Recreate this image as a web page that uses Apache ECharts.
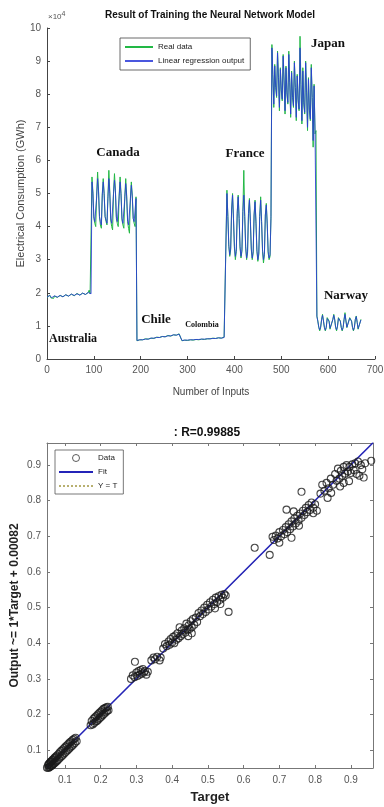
<!DOCTYPE html>
<html><head><meta charset="utf-8">
<script src="https://cdn.jsdelivr.net/npm/echarts@6/dist/echarts.min.js"></script>
<style>html,body{margin:0;padding:0;background:#fff}#c{width:384px;height:807px}</style>
</head><body><div id="c"></div>
<script>
// ---------- Top chart data (values in units of 10^4 GWh, one sample every 2 inputs) ----------
const australiaReal=[1.86,1.80,1.88,1.93,1.85,1.84, 1.88,1.83,1.90,1.95,1.87,1.86, 1.90,1.85,1.92,1.97,1.88,1.88, 1.92,1.86,1.94,1.99,1.90,1.90, 1.93,1.88,1.96,2.01,1.92,1.91, 1.95,1.89,1.98,2.03,1.93,1.93, 1.96,1.91,1.99,2.05,1.95,1.95, 1.98,1.92,2.01,2.08,1.97,1.96];
const australiaPred=[1.87,1.83,1.89,1.92,1.86,1.85, 1.89,1.84,1.91,1.94,1.88,1.87, 1.90,1.86,1.92,1.96,1.89,1.88, 1.92,1.87,1.94,1.98,1.91,1.90, 1.94,1.89,1.96,2.00,1.92,1.92, 1.95,1.90,1.97,2.02,1.94,1.93, 1.97,1.92,1.99,2.04,1.95,1.95, 1.98,1.93,2.01,2.06,1.97,1.97];
const canadaReal=[5.50,5.05,4.25,4.10,4.00,4.95, 5.65,5.10,4.30,4.05,3.95,5.00, 5.45,5.00,4.30,4.15,4.05,4.90, 5.70,5.05,4.20,4.00,3.90,5.05, 5.60,5.10,4.25,4.10,4.00,4.95, 5.50,5.00,4.20,4.05,3.95,4.90, 5.45,4.95,4.15,3.95,3.80,4.85, 5.35,4.95,4.25,4.10,4.00,4.90];
const canadaPred=[5.35,5.00,4.30,4.15,4.10,4.90, 5.45,5.05,4.30,4.15,4.05,4.95, 5.35,4.95,4.30,4.20,4.10,4.85, 5.45,5.00,4.25,4.10,4.05,5.00, 5.40,5.05,4.30,4.15,4.10,4.90, 5.35,4.95,4.25,4.10,4.05,4.85, 5.30,4.90,4.20,4.05,4.00,4.80, 5.25,4.90,4.25,4.15,4.10,4.85];
const chileReal=[0.55,0.56,0.57,0.58,0.56,0.57, 0.58,0.58,0.60,0.61,0.59,0.60, 0.60,0.61,0.62,0.63,0.61,0.62, 0.62,0.63,0.64,0.66,0.64,0.65, 0.65,0.65,0.67,0.68,0.66,0.67, 0.67,0.68,0.69,0.71,0.68,0.70, 0.69,0.70,0.72,0.73,0.71,0.72, 0.72,0.72,0.74,0.76,0.73,0.74];
const chilePred=[0.56,0.56,0.57,0.58,0.57,0.57, 0.58,0.59,0.60,0.60,0.59,0.60, 0.60,0.61,0.62,0.63,0.62,0.62, 0.63,0.63,0.64,0.65,0.64,0.65, 0.65,0.66,0.67,0.68,0.66,0.67, 0.67,0.68,0.69,0.70,0.69,0.70, 0.70,0.70,0.71,0.73,0.71,0.72, 0.72,0.73,0.74,0.75,0.73,0.74];
const colombiaReal=[0.55,0.56,0.56,0.57,0.56,0.57, 0.56,0.57,0.57,0.58,0.57,0.58, 0.57,0.58,0.59,0.59,0.58,0.59, 0.58,0.59,0.60,0.60,0.59,0.60, 0.59,0.60,0.61,0.61,0.60,0.62, 0.61,0.61,0.62,0.63,0.62,0.63, 0.62,0.63,0.63,0.64,0.63,0.64, 0.63,0.64,0.65,0.66,0.65,0.66];
const colombiaPred=[0.56,0.56,0.57,0.57,0.56,0.57, 0.57,0.57,0.58,0.58,0.57,0.58, 0.58,0.58,0.59,0.59,0.58,0.59, 0.59,0.59,0.60,0.60,0.59,0.60, 0.60,0.60,0.61,0.61,0.60,0.61, 0.61,0.61,0.62,0.62,0.62,0.63, 0.62,0.63,0.63,0.64,0.63,0.64, 0.63,0.64,0.65,0.65,0.65,0.66];
const franceReal=[5.10,4.30,3.40,3.10,3.30,4.50, 5.00,4.20,3.35,3.00,3.25,4.40, 4.95,4.25,3.35,3.05,3.25,4.45, 5.70,4.30,3.35,3.00,3.20,4.40, 4.85,4.15,3.30,3.00,3.20,4.35, 4.80,4.10,3.25,2.95,3.15,4.30, 4.90,4.15,3.25,2.90,3.15,4.35, 4.70,4.05,3.20,3.00,3.10,4.30];
const francePred=[5.00,4.30,3.45,3.15,3.35,4.50, 4.95,4.25,3.40,3.10,3.30,4.45, 4.90,4.25,3.40,3.10,3.30,4.45, 4.95,4.30,3.40,3.05,3.25,4.40, 4.80,4.20,3.35,3.05,3.25,4.35, 4.75,4.15,3.30,3.00,3.20,4.30, 4.80,4.15,3.30,3.00,3.20,4.35, 4.65,4.10,3.25,3.05,3.15,4.25];
const japanReal=[9.50,8.60,7.60,8.90,8.20,7.90, 9.30,8.50,7.50,8.80,8.10,7.80, 9.20,8.40,7.40,8.85,8.00,7.70, 9.30,8.40,7.30,8.70,7.90,7.60, 9.00,8.20,7.20,8.60,7.80,7.50, 9.75,8.30,7.10,8.80,7.70,7.40, 9.00,8.10,6.90,8.50,7.50,7.20, 8.90,7.90,6.40,8.30,6.80,6.90];
const japanPred=[9.40,8.55,7.70,8.85,8.25,7.95, 9.25,8.45,7.60,8.75,8.15,7.85, 9.15,8.40,7.50,8.80,8.05,7.75, 9.20,8.35,7.40,8.65,7.95,7.65, 8.95,8.20,7.30,8.55,7.85,7.55, 9.40,8.25,7.20,8.70,7.75,7.45, 8.95,8.05,7.00,8.45,7.55,7.25, 8.80,7.90,6.60,8.25,6.90,6.95];
const norwayReal=[1.30,1.15,0.95,0.85,0.95,1.20, 1.35,1.15,0.95,0.85,0.95,1.25, 1.30,1.15,0.90,0.85,0.95,1.20, 1.35,1.20,0.95,0.85,1.00,1.25, 1.30,1.15,0.95,0.85,0.95,1.20, 1.40,1.15,0.95,0.90,1.00,1.25, 1.30,1.15,0.95,0.85,0.95,1.20, 1.30,1.10,0.90,0.85,0.95,1.20];
const norwayPred=[1.28,1.14,0.97,0.88,0.97,1.18, 1.32,1.15,0.96,0.87,0.97,1.22, 1.28,1.13,0.93,0.87,0.96,1.19, 1.32,1.18,0.96,0.88,0.99,1.23, 1.28,1.14,0.96,0.87,0.96,1.19, 1.35,1.15,0.96,0.90,0.99,1.23, 1.28,1.14,0.96,0.87,0.96,1.19, 1.28,1.11,0.92,0.87,0.96,1.18];
const sampleStep=2;
const topXTicks=[0,100,200,300,400,500,600,700];
const topYTicks=[0,1,2,3,4,5,6,7,8,9,10];

// ---------- Bottom chart data (Target, Output) ----------
const regressionPoints=[
[0.050,0.051],[0.052,0.046],[0.053,0.058],[0.054,0.050],[0.055,0.061],[0.056,0.052],[0.057,0.063],[0.058,0.053],[0.059,0.066],[0.060,0.055],[0.061,0.068],[0.062,0.056],[0.063,0.069],[0.064,0.057],[0.065,0.072],[0.066,0.059],[0.067,0.074],[0.068,0.061],[0.070,0.077],[0.071,0.063],[0.072,0.079],[0.074,0.066],[0.075,0.082],[0.077,0.069],[0.078,0.085],[0.080,0.072],[0.082,0.089],[0.084,0.076],
[0.086,0.094],[0.088,0.080],[0.090,0.098],[0.092,0.084],[0.094,0.102],[0.096,0.088],[0.098,0.106],[0.100,0.092],[0.102,0.110],[0.104,0.096],[0.106,0.114],[0.108,0.100],[0.110,0.118],[0.112,0.104],[0.114,0.122],[0.116,0.108],[0.118,0.125],[0.120,0.112],[0.122,0.129],[0.124,0.116],[0.126,0.132],[0.128,0.120],[0.130,0.135],[0.133,0.125],
[0.172,0.170],[0.175,0.182],[0.178,0.172],[0.180,0.188],[0.182,0.176],[0.184,0.192],[0.186,0.180],[0.188,0.196],[0.190,0.182],[0.192,0.200],[0.194,0.186],[0.196,0.204],[0.198,0.190],[0.200,0.208],[0.202,0.194],[0.204,0.212],[0.206,0.198],[0.208,0.216],[0.210,0.202],[0.212,0.218],[0.214,0.206],[0.216,0.220],[0.218,0.210],[0.220,0.222],[0.222,0.212],
[0.296,0.348],[0.285,0.300],[0.290,0.310],[0.295,0.305],[0.300,0.318],[0.303,0.308],[0.306,0.322],[0.309,0.312],[0.312,0.325],[0.315,0.315],[0.318,0.328],[0.321,0.318],[0.324,0.322],[0.328,0.312],[0.332,0.320],
[0.342,0.352],[0.348,0.360],[0.352,0.355],[0.358,0.362],[0.365,0.352],[0.368,0.360],
[0.375,0.385],[0.380,0.398],[0.385,0.392],[0.390,0.405],[0.393,0.396],[0.396,0.412],[0.400,0.402],[0.403,0.418],[0.406,0.400],[0.409,0.422],[0.412,0.410],[0.415,0.428],[0.418,0.414],[0.421,0.445],[0.424,0.420],[0.427,0.436],[0.430,0.425],[0.434,0.442],[0.437,0.430],[0.440,0.455],[0.443,0.438],[0.446,0.450],[0.449,0.440],[0.452,0.462],[0.455,0.445],[0.458,0.468],[0.462,0.452],[0.466,0.472],[0.470,0.460],[0.445,0.420],[0.455,0.428],
[0.474,0.485],[0.478,0.476],[0.482,0.492],[0.486,0.482],[0.490,0.500],[0.494,0.488],[0.498,0.508],[0.502,0.495],[0.506,0.515],[0.510,0.503],[0.514,0.522],[0.518,0.510],[0.522,0.528],[0.526,0.516],[0.530,0.532],[0.534,0.522],[0.538,0.536],[0.542,0.528],[0.546,0.538],[0.550,0.534],[0.558,0.488],[0.520,0.498],[0.535,0.510],
[0.631,0.668],[0.673,0.648],[0.681,0.699],[0.700,0.682],[0.734,0.696],[0.720,0.775],[0.762,0.825],
[0.685,0.690],[0.690,0.702],[0.695,0.694],[0.700,0.712],[0.705,0.700],[0.710,0.718],[0.714,0.706],[0.718,0.726],[0.722,0.712],[0.726,0.734],[0.730,0.720],[0.734,0.742],[0.738,0.728],[0.742,0.750],[0.746,0.736],[0.750,0.758],[0.754,0.744],[0.758,0.764],[0.762,0.752],[0.766,0.772],[0.770,0.760],[0.774,0.780],[0.778,0.768],[0.782,0.788],[0.786,0.774],[0.790,0.795],[0.795,0.780],[0.800,0.790],[0.805,0.772],[0.795,0.765],[0.740,0.770],[0.755,0.730],
[0.815,0.820],[0.820,0.845],[0.826,0.828],[0.832,0.850],[0.838,0.835],[0.844,0.862],[0.850,0.845],[0.856,0.875],[0.860,0.856],[0.864,0.890],[0.868,0.862],[0.872,0.884],[0.876,0.870],[0.880,0.895],[0.884,0.876],[0.888,0.900],[0.892,0.882],[0.896,0.895],[0.900,0.878],[0.904,0.902],[0.908,0.886],[0.912,0.905],[0.916,0.875],[0.920,0.910],[0.924,0.870],[0.928,0.900],[0.932,0.888],[0.936,0.865],[0.940,0.905],[0.957,0.912],[0.880,0.850],[0.895,0.855],[0.870,0.840],[0.835,0.808],[0.845,0.822]
];
const fitSlope=1, fitIntercept=0.00082;
const regRange=[0.05,0.962];
const bottomTicks=[0.1,0.2,0.3,0.4,0.5,0.6,0.7,0.8,0.9];

// ---------- build ----------
const realSegments=[australiaReal,canadaReal,chileReal,colombiaReal,franceReal,japanReal,norwayReal];
const predSegments=[australiaPred,canadaPred,chilePred,colombiaPred,francePred,japanPred,norwayPred];
function toPairs(segs){const out=[];let i=0;segs.forEach(s=>s.forEach(v=>{out.push([i*sampleStep,v]);i++;}));return out;}
const realData=toPairs(realSegments), predData=toPairs(predSegments);
const fitData=regRange.map(t=>[t,fitSlope*t+fitIntercept]);
const identData=regRange.map(t=>[t,t]);

const SANS='"Liberation Sans", Arial, sans-serif';
const SERIF='"Liberation Serif", "Times New Roman", serif';
const axisCol='#444', lblCol='#555';
const noSym={color:'rgba(0,0,0,0)',borderWidth:0,opacity:0};

const chart=echarts.init(document.getElementById('c'),null,{renderer:'canvas'});
const countryStyle=(t,x,y,fs)=>({type:'text',x:x,y:y,style:{text:t,fill:'#111',font:'bold '+(fs||13)+'px '+SERIF,textAlign:'center',textVerticalAlign:'middle'}});
chart.setOption({
  animation:false,
  backgroundColor:'#fff',
  grid:[
    {left:47,top:28,width:328,height:331,containLabel:false,outerBoundsMode:'none'},
    {left:47,top:443,width:326,height:325,containLabel:false,outerBoundsMode:'none'}
  ],
  xAxis:[
    {type:'value',gridIndex:0,min:topXTicks[0],max:topXTicks[topXTicks.length-1],interval:100,
     name:'Number of Inputs',nameLocation:'middle',nameGap:28,nameMoveOverlap:false,nameTextStyle:{fontSize:10,color:'#444',fontFamily:SANS},
     axisLine:{lineStyle:{color:axisCol,width:1}},axisTick:{inside:true,length:3,lineStyle:{color:axisCol}},
     axisLabel:{fontSize:10,color:lblCol,fontFamily:SANS,margin:6},splitLine:{show:false}},
    {type:'value',gridIndex:1,min:regRange[0],max:regRange[1],
     name:'Target',nameLocation:'middle',nameGap:23,nameMoveOverlap:false,nameTextStyle:{fontSize:13,fontWeight:'bold',color:'#222',fontFamily:SANS},
     axisLine:{lineStyle:{color:'#777',width:1}},axisTick:{inside:true,length:3,customValues:bottomTicks,lineStyle:{color:'#777'}},
     axisLabel:{fontSize:10,color:lblCol,fontFamily:SANS,margin:7,customValues:bottomTicks,formatter:v=>v.toFixed(1)},splitLine:{show:false}},
    {type:'value',gridIndex:1,position:'top',min:regRange[0],max:regRange[1],
     axisLine:{onZero:false,lineStyle:{color:'#777',width:1}},axisTick:{inside:true,length:3,customValues:bottomTicks,lineStyle:{color:'#777'}},
     axisLabel:{show:false},splitLine:{show:false}}
  ],
  yAxis:[
    {type:'value',gridIndex:0,min:topYTicks[0],max:topYTicks[topYTicks.length-1],interval:1,
     name:'Electrical Consumption (GWh)',nameLocation:'middle',nameGap:21,nameMoveOverlap:false,nameRotate:90,nameTextStyle:{fontSize:11,color:'#444',fontFamily:SANS},
     axisLine:{show:true,lineStyle:{color:axisCol,width:1}},axisTick:{show:true,inside:true,length:3,lineStyle:{color:axisCol}},
     axisLabel:{fontSize:10,color:lblCol,fontFamily:SANS,margin:6},splitLine:{show:false}},
    {type:'value',gridIndex:1,min:regRange[0],max:regRange[1],
     name:'Output ~= 1*Target + 0.00082',nameLocation:'middle',nameGap:26,nameMoveOverlap:false,nameRotate:90,nameTextStyle:{fontSize:12,fontWeight:'bold',color:'#222',fontFamily:SANS},
     axisLine:{show:true,lineStyle:{color:'#777',width:1}},axisTick:{show:true,inside:true,length:3,customValues:bottomTicks,lineStyle:{color:'#777'}},
     axisLabel:{fontSize:10,color:lblCol,fontFamily:SANS,margin:6,customValues:bottomTicks,formatter:v=>v.toFixed(1)},splitLine:{show:false}},
    {type:'value',gridIndex:1,position:'right',min:regRange[0],max:regRange[1],
     axisLine:{show:true,onZero:false,lineStyle:{color:'#777',width:1}},axisTick:{show:true,inside:true,length:3,customValues:bottomTicks,lineStyle:{color:'#777'}},
     axisLabel:{show:false},splitLine:{show:false}}
  ],
  legend:[
    {data:[{name:'Real data',itemStyle:noSym},{name:'Linear regression output',itemStyle:noSym}],left:120,top:38,orient:'vertical',itemWidth:28,itemHeight:8,itemGap:6,
     padding:[5,6,5,4],borderColor:'#444',borderWidth:0.8,backgroundColor:'#fff',
     textStyle:{fontSize:8,color:'#222',fontFamily:SANS}},
    {data:[{name:'Data',icon:'circle',itemStyle:{color:'rgba(0,0,0,0)',borderColor:'#333',borderWidth:1}},{name:'Fit',itemStyle:noSym},{name:'Y = T',itemStyle:noSym}],left:55,top:450,orient:'vertical',itemWidth:34,itemHeight:7,itemGap:6,
     padding:[4,6,4,3],borderColor:'#555',borderWidth:0.8,backgroundColor:'#fff',
     textStyle:{fontSize:8,color:'#222',fontFamily:SANS}}
  ],
  series:[
    {name:'Real data',type:'line',xAxisIndex:0,yAxisIndex:0,data:realData,symbol:'none',
     lineStyle:{color:'#22b845',width:1},itemStyle:{color:'#22b845'},z:2},
    {name:'Linear regression output',type:'line',xAxisIndex:0,yAxisIndex:0,data:predData,symbol:'none',
     lineStyle:{color:'#2a3ad8',width:1,opacity:0.85},itemStyle:{color:'#2a3ad8'},z:3},
    {name:'Y = T',type:'line',xAxisIndex:1,yAxisIndex:1,data:identData,symbol:'none',
     lineStyle:{color:'#b8b070',width:1,type:'dotted'},itemStyle:{color:'#b8b070'},z:2},
    {name:'Fit',type:'line',xAxisIndex:1,yAxisIndex:1,data:fitData,symbol:'none',
     lineStyle:{color:'#2424b8',width:1.6},itemStyle:{color:'#2424b8'},z:3},
    {name:'Data',type:'scatter',xAxisIndex:1,yAxisIndex:1,data:regressionPoints,symbol:'circle',symbolSize:7,
     itemStyle:{color:'rgba(0,0,0,0)',borderColor:'#1a1a1a',borderWidth:1.1},z:4}
  ],
  graphic:[
    {type:'text',x:210,y:15,style:{text:'Result of Training the Neural Network Model',fill:'#111',font:'bold 10px '+SANS,textAlign:'center',textVerticalAlign:'middle'}},
    {type:'text',x:48,y:17,style:{text:'×10{s|4}',rich:{s:{fontSize:7,verticalAlign:'top',padding:[0,0,6,0],fill:'#555'}},fill:'#555',font:'8px '+SANS,textVerticalAlign:'middle'}},
    countryStyle('Canada',118,153),
    countryStyle('France',245,154),
    countryStyle('Japan',328,44),
    countryStyle('Australia',73,339,12),
    countryStyle('Chile',156,320),
    countryStyle('Colombia',202,325,8),
    countryStyle('Narway',346,296),
    {type:'text',x:207,y:433,style:{text:': R=0.99885',fill:'#111',font:'bold 12px '+SANS,textAlign:'center',textVerticalAlign:'middle'}}
  ]
});
</script></body></html>
